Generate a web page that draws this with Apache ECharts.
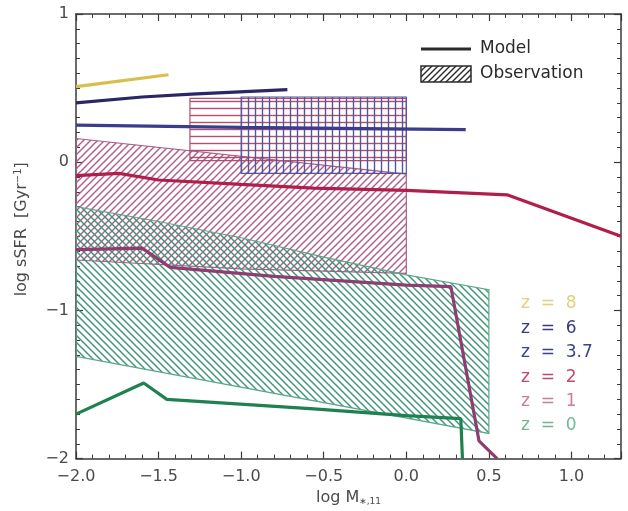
<!DOCTYPE html>
<html>
<head>
<meta charset="UTF-8">
<title>sSFR vs stellar mass</title>
<style>
  html, body { margin: 0; padding: 0; background: #fff; }
  #chart { width: 628px; height: 511px; }
</style>
<script src="https://cdn.jsdelivr.net/npm/echarts@6/dist/echarts.min.js"></script>
</head>
<body>
<div id="chart"></div>
<script>
// model curves: [log M*,11, log sSFR]
var z8Model = [[-2.0, 0.51], [-1.44, 0.59]];
var z6Model = [[-2.0, 0.40], [-1.6, 0.44], [-1.3, 0.46], [-0.72, 0.49]];
var z37Model = [[-2.0, 0.25], [-1.0, 0.235], [0.36, 0.22]];
var z2Model = [[-2.0, -0.09], [-1.74, -0.075], [-1.5, -0.12], [-1.0, -0.15], [-0.56, -0.175],
  [0.0, -0.19], [0.61, -0.22], [1.3, -0.50]];
var z1Model = [[-2.0, -0.59], [-1.6, -0.58], [-1.43, -0.71], [-0.8, -0.77], [0.0, -0.83],
  [0.27, -0.84], [0.44, -1.88], [0.55, -2.0]];
var z0Model = [[-2.0, -1.70], [-1.59, -1.49], [-1.45, -1.60], [-0.56, -1.665], [0.0, -1.71],
  [0.33, -1.73], [0.34, -2.0]];

// observed regions (polygon vertices)
var obsDiag = [[-2.0, 0.16], [0.0, -0.08], [0.0, -0.75], [-1.0, -0.72], [-2.0, -0.66]];
var obsGreen = [[-2.0, -0.30], [-1.5, -0.40], [-1.0, -0.51], [-0.5, -0.64], [0.0, -0.76],
  [0.5, -0.86], [0.5, -1.83], [-2.0, -1.31]];
var obsHoriz = [[-1.31, 0.43], [0.0, 0.43], [0.0, 0.01], [-1.31, 0.01]];
var obsGrid = [[-1.0, 0.44], [0.0, 0.44], [0.0, -0.075], [-1.0, -0.075]];

var zLabels = ['z  =  8', 'z  =  6', 'z  =  3.7', 'z  =  2', 'z  =  1', 'z  =  0'];
var zColors = ['#e3cf7c', '#3c3a7e', '#3e4190', '#bd4d6c', '#c8809c', '#72b898'];

var myChart = echarts.init(document.getElementById('chart'));

function hatch(color, kind, step) {
  var c = document.createElement('canvas');
  c.width = step; c.height = step;
  var g = c.getContext('2d');
  g.strokeStyle = color;
  g.lineWidth = 1.4;
  g.beginPath();
  if (kind === 'fwd') {
    g.moveTo(-1, step + 1); g.lineTo(step + 1, -1);
    g.moveTo(-1, 1); g.lineTo(1, -1);
    g.moveTo(step - 1, step + 1); g.lineTo(step + 1, step - 1);
  } else if (kind === 'back') {
    g.moveTo(-1, -1); g.lineTo(step + 1, step + 1);
    g.moveTo(step - 1, -1); g.lineTo(step + 1, 1);
    g.moveTo(-1, step - 1); g.lineTo(1, step + 1);
  } else if (kind === 'horiz') {
    g.moveTo(0, step / 2); g.lineTo(step, step / 2);
  } else {
    g.moveTo(step / 2, 0); g.lineTo(step / 2, step);
  }
  g.stroke();
  return { image: c, repeat: 'repeat' };
}

function polygon(points, fill, stroke) {
  return {
    type: 'custom',
    coordinateSystem: 'cartesian2d',
    silent: true,
    clip: true,
    data: points,
    renderItem: function (params, api) {
      if (params.dataIndex !== 0) return;
      var pts = points.map(function (p) { return api.coord(p); });
      return {
        type: 'polygon',
        shape: { points: pts },
        style: { fill: fill, stroke: stroke, lineWidth: 1.2 }
      };
    }
  };
}

function model(data, color) {
  return {
    type: 'line',
    data: data,
    symbol: 'none',
    silent: true,
    lineStyle: { color: color, width: 3.2 },
    z: 5
  };
}

function minus(s) { return String(s).replace('-', '\u2212'); }

var axisCommon = {
  type: 'value',
  axisLine: { show: true, onZero: false, lineStyle: { color: '#3a3a3a', width: 1.5 } },
  axisTick: { show: true, inside: true, length: 7, lineStyle: { color: '#3a3a3a', width: 1.2 } },
  minorTick: { show: true, length: 4, lineStyle: { color: '#3a3a3a', width: 1 } },
  splitLine: { show: false },
  minorSplitLine: { show: false }
};

var labelFont = { color: '#4a4a4a', fontSize: 16, fontFamily: 'DejaVu Sans' };

var option = {
  animation: false,
  backgroundColor: '#fff',
  grid: { left: 76, right: 7, top: 14, bottom: 48 },
  xAxis: [
    echarts.util.merge({
      min: -2, max: 1.3, interval: 0.5,
      position: 'bottom',
      minorTick: { splitNumber: 5 },
      axisLabel: echarts.util.extend({
        margin: 10, showMaxLabel: false,
        formatter: function (v) {
          return Math.abs(v * 2 - Math.round(v * 2)) < 1e-6 ? minus(v.toFixed(1)) : '';
        }
      }, labelFont),
      name: 'log M{sub|\u2217,11}',
      nameLocation: 'middle',
      nameGap: 30,
      nameTextStyle: {
        color: '#4a4a4a', fontSize: 16, fontFamily: 'DejaVu Sans',
        rich: { sub: { fontSize: 9, verticalAlign: 'bottom', padding: [8, 0, 0, 0], color: '#4a4a4a' } }
      }
    }, echarts.util.clone(axisCommon), false),
    echarts.util.merge({
      min: -2, max: 1.3, interval: 0.5,
      position: 'top',
      minorTick: { splitNumber: 5 },
      axisLabel: { show: false }
    }, echarts.util.clone(axisCommon), false)
  ],
  yAxis: [
    echarts.util.merge({
      min: -2, max: 1, interval: 1,
      position: 'left',
      minorTick: { splitNumber: 10 },
      axisLabel: echarts.util.extend({
        margin: 7,
        formatter: function (v) { return minus(v); }
      }, labelFont),
      name: 'log sSFR  [Gyr{sup|\u22121}]',
      nameLocation: 'middle',
      nameGap: 45,
      nameTextStyle: {
        color: '#4a4a4a', fontSize: 16, fontFamily: 'DejaVu Sans', padding: [0, 0, 0, 14],
        rich: { sup: { fontSize: 10, verticalAlign: 'top', padding: [0, 0, 8, 0], color: '#4a4a4a' } }
      }
    }, echarts.util.clone(axisCommon), false),
    echarts.util.merge({
      min: -2, max: 1, interval: 1,
      position: 'right',
      minorTick: { splitNumber: 10 },
      axisLabel: { show: false }
    }, echarts.util.clone(axisCommon), false)
  ],
  series: [
    polygon(obsDiag, hatch('#b05a8a', 'fwd', 7), '#b05a8a'),
    polygon(obsGreen, hatch('#3d9474', 'back', 7), '#5aa888'),
    polygon(obsHoriz, hatch('#b24e6e', 'horiz', 7), '#b24e6e'),
    polygon(obsGrid, hatch('#55549a', 'vert', 7), '#55549a'),
    model(z8Model, '#d8be4a'),
    model(z6Model, '#2b2766'),
    model(z37Model, '#3b3d8c'),
    model(z2Model, '#b01e4a'),
    model(z1Model, '#8e3d72'),
    model(z0Model, '#1f8050')
  ],
  graphic: []
};

// legend
option.graphic.push({
  type: 'line', shape: { x1: 421, y1: 49, x2: 471, y2: 49 },
  style: { stroke: '#2a2a2a', lineWidth: 3 }
});
option.graphic.push({
  type: 'rect', shape: { x: 421, y: 66, width: 50, height: 16 },
  style: { fill: hatch('#2a2a2a', 'fwd', 6), stroke: '#2a2a2a', lineWidth: 1.5 }
});
option.graphic.push({
  type: 'text', x: 480, y: 49,
  style: { text: 'Model', fill: '#2a2a2a', fontSize: 17, fontFamily: 'DejaVu Sans', verticalAlign: 'middle' }
});
option.graphic.push({
  type: 'text', x: 480, y: 74,
  style: { text: 'Observation', fill: '#2a2a2a', fontSize: 17, fontFamily: 'DejaVu Sans', verticalAlign: 'middle' }
});

// redshift labels
zLabels.forEach(function (t, i) {
  option.graphic.push({
    type: 'text', x: 521, y: 304 + i * 24.4,
    style: { text: t, fill: zColors[i], fontSize: 17, fontFamily: 'DejaVu Sans', verticalAlign: 'middle' }
  });
});

myChart.setOption(option);
</script>
</body>
</html>
